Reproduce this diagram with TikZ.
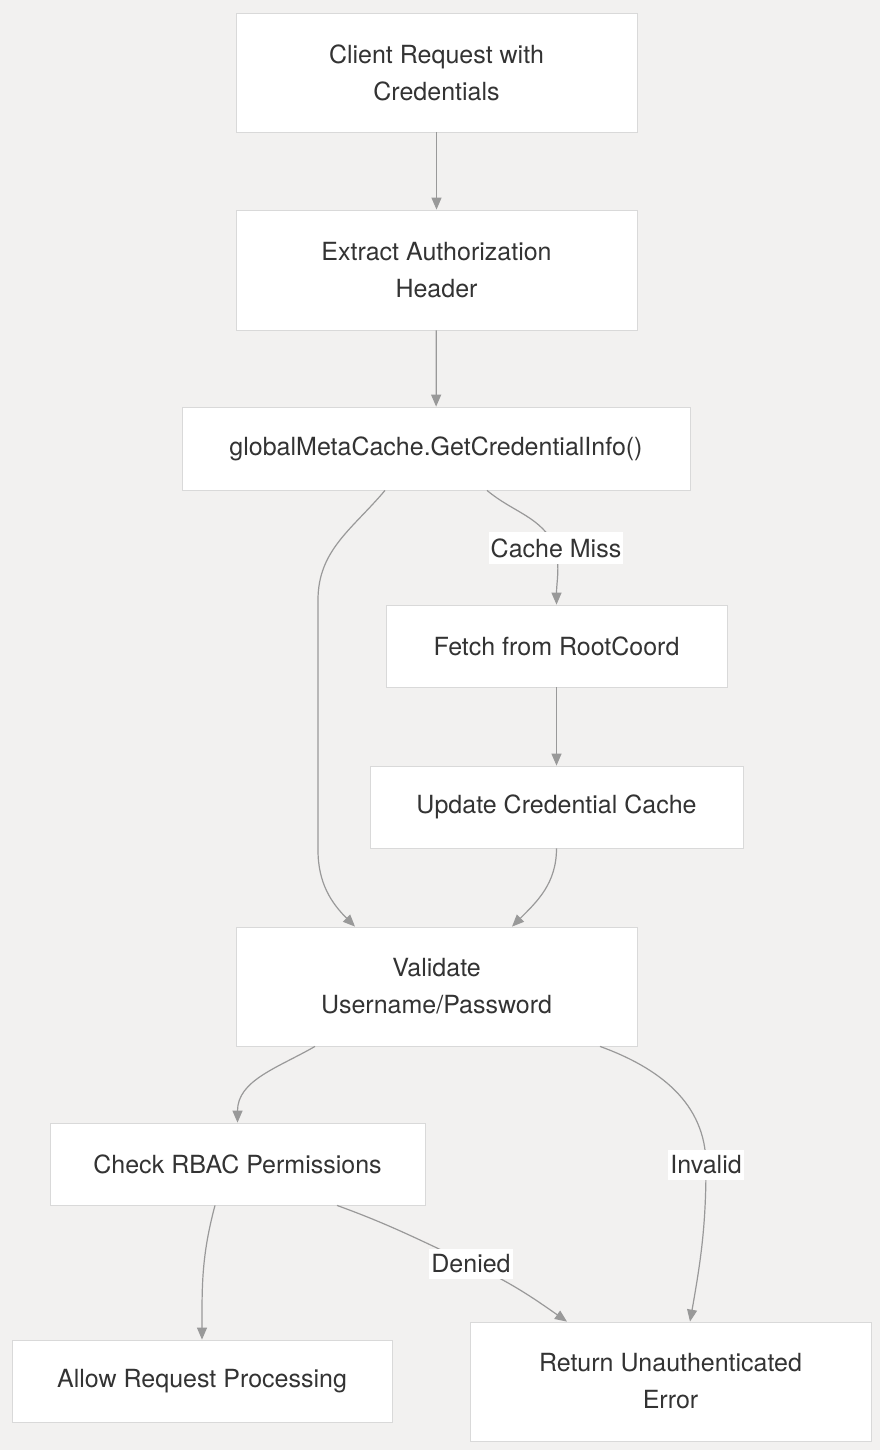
\documentclass[tikz,border=0pt]{standalone}
\usepackage{fontspec}
\setmainfont{TeX Gyre Heros}
\usetikzlibrary{arrows.meta}
\definecolor{bgc}{HTML}{F2F1F0}
\definecolor{boxline}{HTML}{D9D9D9}
\definecolor{edgec}{HTML}{999999}
\definecolor{txtc}{HTML}{333333}
\begin{document}
\begin{tikzpicture}[%
  x=0.5pt,
  y=-0.5pt,
  >={Triangle[length=6pt,width=5pt]},
  box/.style={
    draw=boxline,
    fill=white,
    align=center,
    inner sep=0pt,
    text=txtc,
    font=\fontsize{12.5}{18.5}\selectfont,},
  lbl/.style={
    fill=white,
    inner xsep=1pt,
    inner ysep=3pt,
    text=txtc,
    font=\fontsize{12.5}{14}\selectfont,},
  pil/.style={
    ->,
    draw=edgec,
    line width=0.6pt,}
  ]
  \fill[bgc] (0,0) rectangle (880,1450);
  %% Nodes
  \node[box, minimum width=200.5pt, minimum height=59.5pt] (req) at (436.5,72.5) {Client Request with\\Credentials};
  \node[box, minimum width=200.5pt, minimum height=60pt] (hdr) at (436.5,270) {Extract Authorization\\Header};
  \node[box, minimum width=254pt, minimum height=41.5pt] (meta) at (436,448.5) {globalMetaCache.GetCredentialInfo()};
  \node[box, minimum width=170.5pt, minimum height=41pt] (fetch) at (556.5,646) {Fetch from RootCoord};
  \node[box, minimum width=186.5pt, minimum height=41pt] (upd) at (556.5,807) {Update Credential Cache};
  \node[box, minimum width=200.5pt, minimum height=59.5pt] (val) at (436.5,986.5) {Validate\\Username/Password};
  \node[box, minimum width=187.5pt, minimum height=41pt] (rbac) at (237.5,1164) {Check RBAC Permissions};
  \node[box, minimum width=190pt, minimum height=41pt] (allow) at (202,1381) {Allow Request Processing};
  \node[box, minimum width=200.5pt, minimum height=59.5pt] (err) at (670.5,1381.5) {Return Unauthenticated\\Error};
  %% Edges
  \draw[pil] (req) to (hdr);
  \draw[pil] (hdr) to (meta);
  \draw[pil] ([xshift=-25.5pt]meta.south) to[out=-130,in=90] (318,600) -- (318,850) to[out=-90,in=135] ([xshift=-40.75pt]val.north);
  \draw[pil] ([xshift=25.5pt]meta.south) to[out=-40,in=115] (556,548) node[lbl] {Cache Miss} to[out=-80,in=90] (fetch.north);
  \draw[pil] (fetch) to (upd);
  \draw[pil] (upd.south) to[out=-90,in=45] ([xshift=37.75pt]val.north);
  \draw[pil] ([xshift=-60.75pt]val.south) to[out=-150,in=90] (rbac.north);
  \draw[pil] ([xshift=81.75pt]val.south) to[out=-20,in=90] (706,1165) node[lbl] {Invalid} to[out=-90,in=80] ([xshift=9.75pt]err.north);
  \draw[pil] ([xshift=-11.25pt]rbac.south) to[out=-105,in=90] (allow.north);
  \draw[pil] ([xshift=49.75pt]rbac.south) to[out=-20,in=155] (471,1264) node[lbl] {Denied} to[out=-25,in=145] ([xshift=-51.75pt]err.north);
\end{tikzpicture}
\end{document}
